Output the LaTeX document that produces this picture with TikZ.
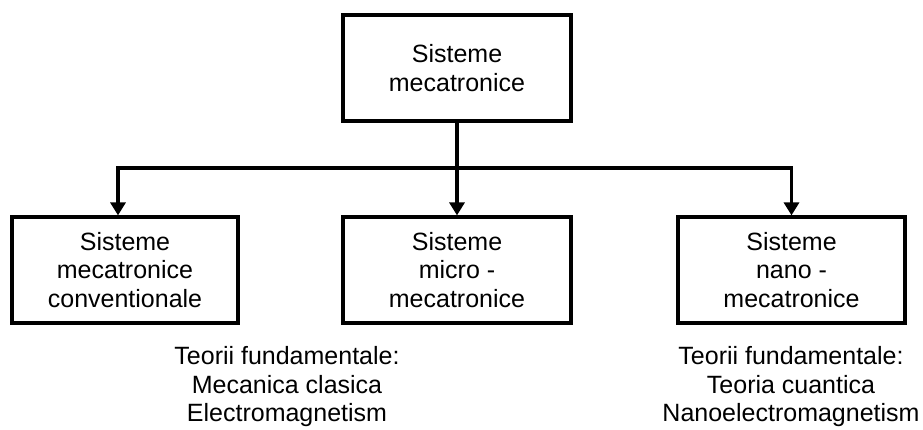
\documentclass[tikz,border=0pt]{standalone}
\usepackage{fontspec}
\setmainfont{Liberation Sans}
\usetikzlibrary{arrows.meta}
\begin{document}
\begin{tikzpicture}[x=1pt, y=-1pt,
  txt/.style={font=\fontsize{25}{28.5}\selectfont, align=center, inner sep=0pt},
  sysbox/.style={txt, draw, line width=3.2pt, minimum height=106pt},
  link/.style={line width=3.2pt},
  arr/.style={link, -{Triangle[width=15pt,length=13pt]}}]
  \useasboundingbox (0,0) rectangle (923,430);

  % hierarchy boxes
  \node[sysbox, minimum width=228pt] (top)   at (457,68)    {Sisteme\\mecatronice};
  \node[sysbox, minimum width=226pt] (conv)  at (125,270)   {Sisteme\\mecatronice\\conventionale};
  \node[sysbox, minimum width=228pt] (micro) at (457,270)   {Sisteme\\micro -\\mecatronice};
  \node[sysbox, minimum width=227pt] (nano)  at (791.5,270) {Sisteme\\nano -\\mecatronice};

  % distribution bus
  \coordinate (bus) at (457,168);
  \coordinate (busL) at (118,168);
  \coordinate (busR) at (791.5,168);
  \draw[link] (top.south) -- (bus);
  \draw[link, line cap=rect] (busL) -- (busR);
  \draw[arr] (busL) -- (busL |- conv.north);
  \draw[arr] (bus) -- (micro.north);
  \draw[arr] (busR) -- (nano.north);

  % fundamental theories
  \node[txt] (tclasic) at (287,387)
    {Teorii fundamentale:\\Mecanica clasica\\Electromagnetism};
  \node[txt] (tnano) at (791,387)
    {Teorii fundamentale:\\Teoria cuantica\\Nanoelectromagnetism};
\end{tikzpicture}
\end{document}
